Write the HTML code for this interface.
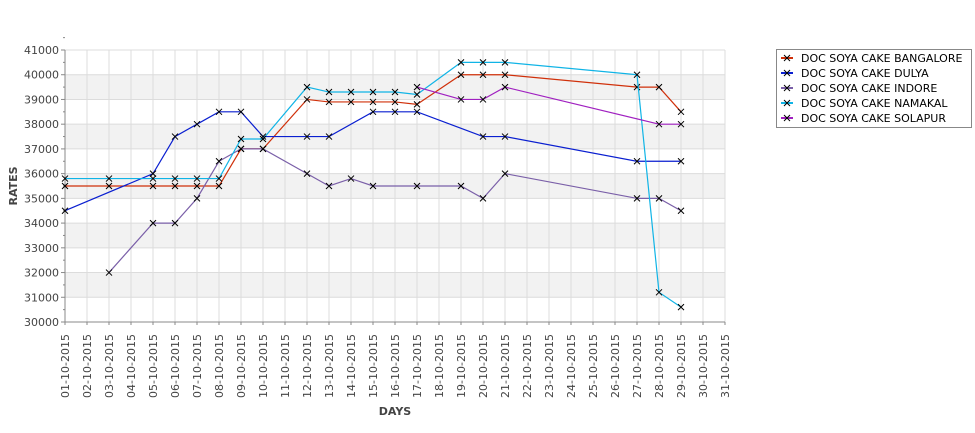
<!DOCTYPE html>
<html><head><meta charset="utf-8"><style>
body{margin:0;background:#fff;font-family:"DejaVu Sans","Liberation Sans",sans-serif;}
svg text{font-family:"DejaVu Sans","Liberation Sans",sans-serif;}
</style></head><body>
<svg id="chart" width="975" height="429"></svg>
<script>
const days = [];
for (let d = 1; d <= 31; d++) days.push(String(d).padStart(2,'0') + '-10-2015');
const yTicks = [30000,31000,32000,33000,34000,35000,36000,37000,38000,39000,40000,41000];
const seriesNames = ['DOC SOYA CAKE BANGALORE','DOC SOYA CAKE DULYA','DOC SOYA CAKE INDORE','DOC SOYA CAKE NAMAKAL','DOC SOYA CAKE SOLAPUR'];
const seriesColors = ['#d0300a','#0a1fd0','#7a5fa8','#10b4e6','#a020c0'];
const bangaloreDays = [1,3,5,6,7,8,9,10,12,13,14,15,16,17,19,20,21,27,28,29];
const bangaloreVals = [35500,35500,35500,35500,35500,35500,37000,37000,39000,38900,38900,38900,38900,38800,40000,40000,40000,39500,39500,38500];
const dulyaDays = [1,5,6,7,8,9,10,12,13,15,16,17,20,21,27,29];
const dulyaVals = [34500,36000,37500,38000,38500,38500,37500,37500,37500,38500,38500,38500,37500,37500,36500,36500];
const indoreDays = [3,5,6,7,8,9,10,12,13,14,15,17,19,20,21,27,28,29];
const indoreVals = [32000,34000,34000,35000,36500,37000,37000,36000,35500,35800,35500,35500,35500,35000,36000,35000,35000,34500];
const namakalDays = [1,3,5,6,7,8,9,10,12,13,14,15,16,17,19,20,21,27,28,29];
const namakalVals = [35800,35800,35800,35800,35800,35800,37400,37400,39500,39300,39300,39300,39300,39200,40500,40500,40500,40000,31200,30600];
const solapurDays = [17,19,20,21,28,29];
const solapurVals = [39500,39000,39000,39500,38000,38000];

const NS='http://www.w3.org/2000/svg';
const svg=document.getElementById('chart');
const L=65,R=725,T=50,B=322;
const xs=d=>L+(R-L)*(d-1)/30;
const ys=v=>B-(B-T)*(v-30000)/11000;
function mk(tag,attrs,parent){const e=document.createElementNS(NS,tag);for(const k in attrs)e.setAttribute(k,attrs[k]);(parent||svg).appendChild(e);return e;}

// bands
for(let v=31000;v<41000;v+=2000){
  const b=mk('rect',{x:L,y:ys(v+1000),width:R-L,height:ys(v)-ys(v+1000),fill:'#f2f2f2'});
  
  
}
// grid
for(let d=1;d<=31;d++){const g=mk('line',{x1:xs(d),x2:xs(d),y1:T,y2:B,stroke:'#dcdcdc','stroke-width':1});
  
  }
yTicks.forEach(v=>{const g=mk('line',{x1:L,x2:R,y1:ys(v),y2:ys(v),stroke:'#dcdcdc','stroke-width':1});
  
  });
// axes
const ax=mk('line',{x1:L,x2:L,y1:T,y2:B,stroke:'#888','stroke-width':1});


const ax2=mk('line',{x1:L,x2:R,y1:B,y2:B,stroke:'#888','stroke-width':1});


yTicks.forEach(v=>{
  mk('line',{x1:L-4,x2:L,y1:ys(v),y2:ys(v),stroke:'#888'});
  mk('line',{x1:L-2,x2:L,y1:ys(v+500),y2:ys(v+500),stroke:'#888'});
  const t=mk('text',{x:L-6,y:ys(v)+4,'text-anchor':'end','font-size':11,fill:'#444'});
  t.textContent=v;
  
  
});
days.forEach((lab,i)=>{
  const x=xs(i+1);
  mk('line',{x1:x,x2:x,y1:B,y2:B+3,stroke:'#888'});
  const t=mk('text',{x:0,y:0,'text-anchor':'end','font-size':11,fill:'#444',transform:`translate(${x+4},${B+12}) rotate(-90)`});
  t.textContent=lab;
  
  
});
const yt=mk('text',{x:0,y:0,'text-anchor':'middle','font-size':11,'font-weight':'bold',fill:'#444',transform:`translate(17,${(T+B)/2}) rotate(-90)`});
yt.textContent='RATES';


const xt=mk('text',{x:(L+R)/2,y:415,'text-anchor':'middle','font-size':11,'font-weight':'bold',fill:'#444'});
xt.textContent='DAYS';



const allDays=[bangaloreDays,dulyaDays,indoreDays,namakalDays,solapurDays];
const allVals=[bangaloreVals,dulyaVals,indoreVals,namakalVals,solapurVals];
function cross(x,y,parent){mk('path',{d:`M${x-3},${y-3}L${x+3},${y+3}M${x-3},${y+3}L${x+3},${y-3}`,stroke:'#000','stroke-width':1},parent);}
allDays.forEach((ds,si)=>{
  const g=mk('g',{});
  
  
  const pts=ds.map((d,i)=>xs(d)+','+ys(allVals[si][i])).join(' ');
  const pl=mk('polyline',{points:pts,fill:'none',stroke:seriesColors[si],'stroke-width':1.2},g);
  
  
  ds.forEach((d,i)=>cross(xs(d),ys(allVals[si][i]),g));
});
// legend
const lg=mk('g',{});


mk('rect',{x:776.5,y:49.5,width:195,height:78,fill:'#fff',stroke:'#888'},lg);
seriesNames.forEach((n,i)=>{
  const y=58+15*i;
  const e=mk('g',{},lg);
  
  
  mk('line',{x1:781,x2:793,y1:y,y2:y,stroke:seriesColors[i],'stroke-width':2},e);
  cross(787,y,e);
  const t=mk('text',{x:801,y:y+4,'font-size':11,fill:'#000'},e);
  t.textContent=n;
});
</script>
</body></html>
